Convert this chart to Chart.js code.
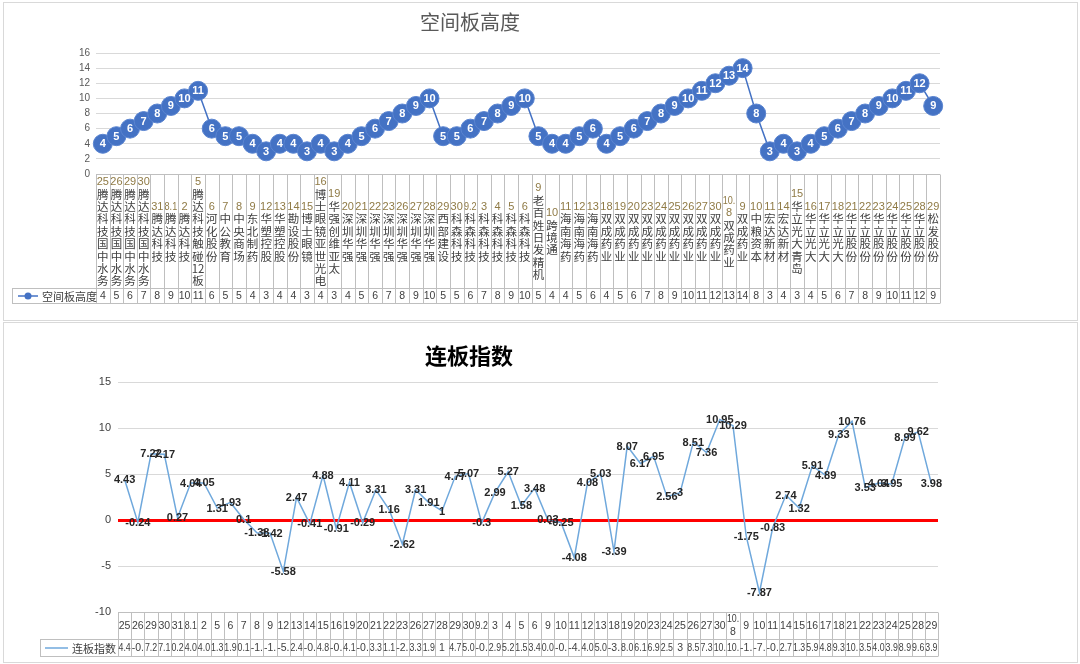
<!DOCTYPE html>
<html lang="zh">
<head>
<meta charset="UTF-8">
<title>空间板高度 / 连板指数</title>
<script src="https://cdn.jsdelivr.net/npm/chart.js"></script>
<style>
  body { margin: 0; background: #fff; width: 1080px; height: 664px; position: relative; overflow: hidden; }
  .panel { position: absolute; border: 1px solid #d9d9d9; box-sizing: border-box; }
  #p1 { left: 3px; top: 2px; width: 1075px; height: 319px; }
  #p2 { left: 3px; top: 322px; width: 1075px; height: 341px; }
  canvas { position: absolute; left: 0; }
  #c1 { top: 0; }
  #c2 { top: 321px; }
</style>
</head>
<body>
<div class="panel" id="p1"></div>
<div class="panel" id="p2"></div>
<canvas id="c1" width="1080" height="321"></canvas>
<canvas id="c2" width="1080" height="343"></canvas>
<script>
// trading days (Jul 25 -> Sep 29)
const dates = ['25','26','29','30','31','8.1','2','5','6','7','8','9','12','13','14','15','16','19','20','21','22','23','26','27','28','29','30','9.2','3','4','5','6','9','10','11','12','13','18','19','20','23','24','25','26','27','30','10.8','9','10','11','14','15','16','17','18','21','22','23','24','25','28','29'];

// highest board stock of the day
const stocks = ['腾达科技国中水务','腾达科技国中水务','腾达科技国中水务','腾达科技国中水务','腾达科技','腾达科技','腾达科技','腾达科技触碰12板',
  '河化股份','中公教育','中央商场','东北制药','华塑控股','华塑控股','勘设股份','博士眼镜','博士眼镜亚世光电','华强创维亚太',
  '深圳华强','深圳华强','深圳华强','深圳华强','深圳华强','深圳华强','深圳华强','西部建设',
  '科森科技','科森科技','科森科技','科森科技','科森科技','科森科技','老百姓日发精机','跨境通','海南海药','海南海药','海南海药',
  '双成药业','双成药业','双成药业','双成药业','双成药业','双成药业','双成药业','双成药业','双成药业','双成药业','双成药业',
  '中粮资本','宏达新材','宏达新材','华立光大青岛','华立光大','华立光大','华立光大',
  '华立股份','华立股份','华立股份','华立股份','华立股份','华立股份','松发股份'];

const heights = [4,5,6,7,8,9,10,11,6,5,5,4,3,4,4,3,4,3,4,5,6,7,8,9,10,5,5,6,7,8,9,10,5,4,4,5,6,4,5,6,7,8,9,10,11,12,13,14,8,3,4,3,4,5,6,7,8,9,10,11,12,9];

const indexValues = [4.43,-0.24,7.22,7.17,0.27,4.04,4.05,1.31,1.93,0.10,-1.38,-1.42,-5.58,2.47,-0.41,4.88,-0.91,4.11,-0.29,3.31,1.16,-2.62,3.31,1.91,1,4.77,5.07,-0.3,2.99,5.27,1.58,3.48,0.03,-0.25,-4.08,4.08,5.03,-3.39,8.07,6.17,6.95,2.56,3,8.51,7.36,10.95,10.29,-1.75,-7.87,-0.83,2.74,1.32,5.91,4.89,9.33,10.76,3.53,4.04,3.95,8.99,9.62,3.98];

const heightTicks = [0, 16, 2];   // min, max, step
const indexTicks = [-10, 15, 5];

Chart.defaults.font.family = "'Liberation Sans', 'Noto Sans CJK SC', sans-serif";
Chart.defaults.animation = false;

function dateLines(d) {
  return d.length > 3 ? [d.slice(0, 3), d.slice(3)] : [d];
}

// draws an Excel-style data table under the plot area
const tablePlugin = {
  id: 'dataTable',
  afterDraw(chart, args, o) {
    const ctx = chart.ctx;
    const a = chart.chartArea;
    const n = chart.data.labels.length;
    const w = (a.right - a.left) / n;
    const top = Math.round(a.bottom) + 0.5;
    const mid = top + o.headHeight;
    const bot = mid + o.rowHeight;
    ctx.save();
    ctx.strokeStyle = '#bfbfbf';
    ctx.lineWidth = 1;
    ctx.beginPath();
    ctx.moveTo(a.left, top); ctx.lineTo(a.right, top);
    ctx.moveTo(o.legendLeft, mid); ctx.lineTo(a.right, mid);
    ctx.moveTo(o.legendLeft, bot); ctx.lineTo(a.right, bot);
    ctx.moveTo(o.legendLeft + 0.5, mid); ctx.lineTo(o.legendLeft + 0.5, bot);
    for (let i = 0; i <= n; i++) {
      const x = Math.round(a.left + i * w) + 0.5;
      ctx.moveTo(x, top); ctx.lineTo(x, bot);
    }
    ctx.stroke();

    ctx.textAlign = 'center';
    ctx.textBaseline = 'middle';
    for (let i = 0; i < n; i++) {
      const cx = a.left + (i + 0.5) * w;
      const lines = o.head(i);
      const y0 = top + (o.headHeight - lines.length * o.lineHeight) / 2 + o.lineHeight / 2;
      lines.forEach((ln, k) => {
        ctx.font = ln.font;
        ctx.fillStyle = ln.color;
        ctx.fillText(ln.text, cx, y0 + k * o.lineHeight, w - 1);
      });
      ctx.font = o.valueFont;
      ctx.fillStyle = o.valueColor;
      ctx.fillText(o.value(i), cx, mid + o.rowHeight / 2 + 0.5, w - 1);
    }

    // legend cell
    const ly = mid + o.rowHeight / 2;
    o.marker(ctx, ly);
    ctx.textAlign = 'left';
    ctx.font = o.legendFont;
    ctx.fillStyle = '#404040';
    ctx.fillText(o.legendText, o.legendTextX, ly + 0.5);
    ctx.restore();
  }
};

// value labels on the points
const labelPlugin = {
  id: 'pointLabels',
  afterDatasetsDraw(chart, args, o) {
    const ctx = chart.ctx;
    const meta = chart.getDatasetMeta(0);
    const data = chart.data.datasets[0].data;
    ctx.save();
    ctx.font = o.font;
    ctx.fillStyle = o.color;
    ctx.textAlign = 'center';
    ctx.textBaseline = 'middle';
    meta.data.forEach((pt, i) => ctx.fillText(String(data[i]), pt.x, pt.y + 0.5));
    ctx.restore();
  }
};

// ---------- 空间板高度 ----------
new Chart(document.getElementById('c1'), {
  type: 'line',
  data: {
    labels: dates.map((d, i) => d + stocks[i]),
    datasets: [{
      label: '空间板高度',
      data: heights,
      borderColor: '#4472c4',
      borderWidth: 1.5,
      pointRadius: 9.5,
      pointBackgroundColor: '#4472c4',
      pointBorderColor: '#5a84d0',
      pointBorderWidth: 1
    }]
  },
  options: {
    responsive: false,
    layout: { padding: { left: 0, right: 140, top: 0, bottom: 147 } },
    scales: {
      x: { display: false, offset: true },
      y: {
        min: heightTicks[0], max: heightTicks[1],
        ticks: { stepSize: heightTicks[2], color: '#595959', font: { size: 10 }, padding: 6 },
        grid: { color: c => c.tick.value === 0 ? '#bfbfbf' : '#d9d9d9', drawTicks: false },
        border: { display: false },
        afterFit: s => { s.width = 96; }
      }
    },
    plugins: {
      legend: { display: false },
      tooltip: { enabled: false },
      title: {
        display: true, text: '空间板高度', color: '#595959',
        font: { size: 20, weight: 'normal' },
        padding: { top: 12, bottom: 17 }
      },
      pointLabels: { font: "bold 11px 'Liberation Sans'", color: '#ffffff' },
      dataTable: {
        headHeight: 114, rowHeight: 15, lineHeight: 12.4, legendLeft: 12,
        head: i => dateLines(dates[i]).map(t => ({ text: t, font: "11px 'Liberation Sans'", color: '#8f7a45' }))
          .concat(stocks[i].match(/\d+|./g).map(t => ({ text: t, font: "11.5px 'Noto Sans CJK SC'", color: '#404040' }))),
        value: i => String(heights[i]),
        valueFont: "10.5px 'Liberation Sans'", valueColor: '#404040',
        legendText: '空间板高度', legendTextX: 42, legendFont: "11px 'Noto Sans CJK SC'",
        marker: (ctx, y) => {
          ctx.strokeStyle = '#4472c4'; ctx.lineWidth = 1.5;
          ctx.beginPath(); ctx.moveTo(18, y); ctx.lineTo(38, y); ctx.stroke();
          ctx.fillStyle = '#4472c4';
          ctx.beginPath(); ctx.arc(28, y, 3.5, 0, Math.PI * 2); ctx.fill();
        }
      }
    }
  },
  plugins: [labelPlugin, tablePlugin]
});

// ---------- 连板指数 ----------
new Chart(document.getElementById('c2'), {
  type: 'line',
  data: {
    labels: dates,
    datasets: [{
      label: '连板指数',
      data: indexValues,
      borderColor: '#6fa8dc',
      borderWidth: 1.5,
      pointRadius: 0,
      tension: 0
    }]
  },
  options: {
    responsive: false,
    layout: { padding: { left: 0, right: 142, top: 0, bottom: 52 } },
    scales: {
      x: { display: false, offset: true },
      y: {
        min: indexTicks[0], max: indexTicks[1],
        ticks: { stepSize: indexTicks[2], color: '#404040', font: { size: 11 }, padding: 7 },
        grid: {
          color: c => c.tick.value === 0 ? '#ff0000' : (c.tick.value === indexTicks[0] ? '#bfbfbf' : '#d9d9d9'),
          lineWidth: c => c.tick.value === 0 ? 3 : 1,
          drawTicks: false
        },
        border: { display: false },
        afterFit: s => { s.width = 118; }
      }
    },
    plugins: {
      legend: { display: false },
      tooltip: { enabled: false },
      title: {
        display: true, text: '连板指数', color: '#000000',
        font: { size: 22, weight: 'bold' },
        padding: { top: 24, bottom: 11 }
      },
      pointLabels: { font: "bold 11px 'Liberation Sans'", color: '#262626' },
      dataTable: {
        headHeight: 27, rowHeight: 17, lineHeight: 13, legendLeft: 40,
        head: i => dateLines(dates[i]).map(t => ({ text: t, font: "10.5px 'Liberation Sans'", color: '#404040' })),
        value: i => String(indexValues[i]).slice(0, 3),
        valueFont: "10.5px 'Liberation Sans'", valueColor: '#404040',
        legendText: '连板指数', legendTextX: 72, legendFont: "11px 'Noto Sans CJK SC'",
        marker: (ctx, y) => {
          ctx.strokeStyle = '#6fa8dc'; ctx.lineWidth = 1.5;
          ctx.beginPath(); ctx.moveTo(45, y); ctx.lineTo(68, y); ctx.stroke();
        }
      }
    }
  },
  plugins: [labelPlugin, tablePlugin]
});
</script>
</body>
</html>
